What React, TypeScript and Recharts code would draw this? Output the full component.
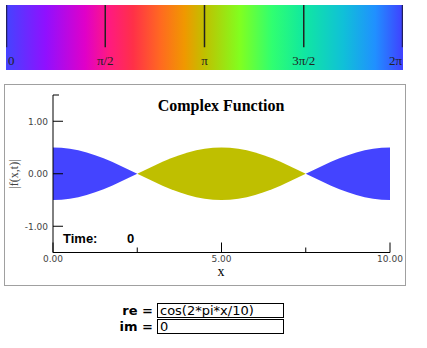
import { Area, ComposedChart, ReferenceArea, ReferenceDot, ReferenceLine, XAxis, YAxis } from "recharts";

const xValues = [
  0, 0.25, 0.5, 0.75, 1, 1.25, 1.5, 1.75, 2, 2.25, 2.5, 2.75, 3, 3.25, 3.5, 3.75, 4, 4.25, 4.5, 4.75, 5,
  5.25, 5.5, 5.75, 6, 6.25, 6.5, 6.75, 7, 7.25, 7.5, 7.75, 8, 8.25, 8.5, 8.75, 9, 9.25, 9.5, 9.75, 10,
];
const magnitude = [
  1.0, 0.988, 0.951, 0.891, 0.809, 0.707, 0.588, 0.454, 0.309, 0.156, 0, 0.156, 0.309, 0.454, 0.588, 0.707,
  0.809, 0.891, 0.951, 0.988, 1.0, 0.988, 0.951, 0.891, 0.809, 0.707, 0.588, 0.454, 0.309, 0.156, 0, 0.156,
  0.309, 0.454, 0.588, 0.707, 0.809, 0.891, 0.951, 0.988, 1.0,
];
// 0 = positive real (blue), 1 = phase pi (olive)
const phase = [
  0, 0, 0, 0, 0, 0, 0, 0, 0, 0, 0, 1, 1, 1, 1, 1, 1, 1, 1, 1, 1, 1, 1, 1, 1, 1, 1, 1, 1, 1, 0, 0, 0, 0, 0, 0,
  0, 0, 0, 0, 0,
];
const xTicks = [0, 2.5, 5, 7.5, 10];
const yTicks = [-1, 0, 1, 1.5];
const phaseTicks = [0, Math.PI / 2, Math.PI, (3 * Math.PI) / 2, 2 * Math.PI];
const phaseLabels = ["0", "π/2", "π", "3π/2", "2π"];

const hueStops = [
  { at: 0, color: "#4444ff" },
  { at: 0.1, color: "#9010ff" },
  { at: 0.2, color: "#e000c8" },
  { at: 0.26, color: "#ff1a80" },
  { at: 0.32, color: "#ff3048" },
  { at: 0.39, color: "#ff6a20" },
  { at: 0.45, color: "#f09800" },
  { at: 0.5, color: "#c0c000" },
  { at: 0.59, color: "#80ff20" },
  { at: 0.67, color: "#30ff70" },
  { at: 0.75, color: "#10e8a0" },
  { at: 0.85, color: "#10c0d8" },
  { at: 0.93, color: "#2090ff" },
  { at: 1, color: "#4040ff" },
];

const data = xValues.map((x, i) => {
  const h = magnitude[i] / 2;
  const band = [-h, h];
  return {
    x,
    pos: phase[i] === 0 || magnitude[i] === 0 ? band : null,
    neg: phase[i] === 1 || magnitude[i] === 0 ? band : null,
  };
});

const phaseData = phaseTicks.map((t) => ({ x: t, y: 0.5 }));

const tickFont = { fontFamily: "DejaVu Sans", fontSize: 9, fill: "#444" };

function XTick(props: any) {
  const { x, y, payload } = props;
  const v = payload.value;
  const major = v % 5 === 0;
  return (
    <g>
      <line x1={x} x2={x} y1={y} y2={y - (major ? 10 : 5)} stroke="#000" />
      {major && (
        <text x={x} y={y + 9.5} textAnchor="middle" {...tickFont}>
          {v.toFixed(2)}
        </text>
      )}
    </g>
  );
}

function YTick(props: any) {
  const { x, y, payload } = props;
  const v = payload.value;
  const labeled = Number.isInteger(v);
  return (
    <g>
      <line x1={x} x2={x + (labeled ? 10 : 6)} y1={y} y2={y} stroke="#000" />
      {labeled && (
        <text x={x - 5} y={y + 3.3} textAnchor="end" {...tickFont}>
          {v.toFixed(2)}
        </text>
      )}
    </g>
  );
}

function phaseLabelShape(index: number) {
  const last = phaseLabels.length - 1;
  const anchor = index === 0 ? "start" : index === last ? "end" : "middle";
  const dx = index === 0 ? 2 : index === last ? -1 : 0;
  return (props: any) => (
    <text
      x={props.cx + dx}
      y={props.cy}
      textAnchor={anchor}
      fontFamily="Liberation Serif"
      fontSize={13}
      fill="#222"
    >
      {phaseLabels[index]}
    </text>
  );
}

export default function App() {
  return (
    <div style={{ position: "absolute", left: 0, top: 0, width: 427, height: 348, background: "#fff" }}>
      <div style={{ position: "absolute", left: 6, top: 5 }}>
        <ComposedChart width={397} height={65} data={phaseData} margin={{ top: 0, right: 0, bottom: 0, left: 0 }}>
          <defs>
            <linearGradient id="hue" x1="0" y1="0" x2="1" y2="0">
              {hueStops.map((s) => (
                <stop key={s.at} offset={s.at} stopColor={s.color} />
              ))}
            </linearGradient>
          </defs>
          <XAxis type="number" dataKey="x" domain={[0, 2 * Math.PI]} hide />
          <YAxis type="number" dataKey="y" domain={[0, 1]} hide />
          <ReferenceArea x1={0} x2={2 * Math.PI} y1={0} y2={1} fill="url(#hue)" fillOpacity={1} stroke="none" />
          {phaseTicks.map((t, i) => (
            <ReferenceLine
              key={"l" + i}
              segment={[
                { x: t, y: 0.35 },
                { x: t, y: 1 },
              ]}
              stroke={i === 0 || i === phaseTicks.length - 1 ? "#202060" : "#222"}
              strokeWidth={i === 0 || i === phaseTicks.length - 1 ? 2.5 : 1.5}
            />
          ))}
          {phaseTicks.map((t, i) => (
            <ReferenceDot key={"d" + i} x={t} y={0.077} r={0} shape={phaseLabelShape(i)} />
          ))}
        </ComposedChart>
      </div>

      <div
        style={{
          position: "absolute",
          left: 4,
          top: 84,
          width: 402,
          height: 202,
          border: "1px solid #a0a0a0",
          boxSizing: "border-box",
        }}
      />
      <div style={{ position: "absolute", left: 4, top: 85 }}>
        <ComposedChart width={401} height={200} data={data} margin={{ top: 10, right: 15, bottom: 12.5, left: 19 }}>
          <XAxis
            type="number"
            dataKey="x"
            domain={[0, 10]}
            ticks={xTicks}
            interval={0}
            height={20}
            tickSize={0}
            tickMargin={0}
            stroke="#000"
            tickLine={false}
            tick={XTick}
          />
          <YAxis
            type="number"
            domain={[-1.5, 1.5]}
            ticks={yTicks}
            interval={0}
            width={30}
            tickSize={0}
            tickMargin={0}
            stroke="#000"
            tickLine={false}
            tick={YTick}
            allowDataOverflow
          />
          <Area
            dataKey="pos"
            type="linear"
            fill="#4444ff"
            fillOpacity={1}
            stroke="none"
            isAnimationActive={false}
            dot={false}
            activeDot={false}
          />
          <Area
            dataKey="neg"
            type="linear"
            fill="#bfbf00"
            fillOpacity={1}
            stroke="none"
            isAnimationActive={false}
            dot={false}
            activeDot={false}
          />
        </ComposedChart>
      </div>

      <div
        style={{
          position: "absolute",
          left: 121,
          top: 97.6,
          width: 200,
          textAlign: "center",
          fontFamily: "Liberation Serif",
          fontWeight: "bold",
          fontSize: 16,
          lineHeight: "16px",
          color: "#000",
        }}
      >
        Complex Function
      </div>
      <div
        style={{
          position: "absolute",
          left: -1,
          top: 168,
          width: 30,
          textAlign: "center",
          fontFamily: "Liberation Serif",
          fontSize: 12,
          lineHeight: "12px",
          color: "#444",
          transform: "rotate(-90deg)",
        }}
      >
        |f(x,t)|
      </div>
      <div
        style={{
          position: "absolute",
          left: 211,
          top: 265,
          width: 20,
          textAlign: "center",
          fontFamily: "Liberation Serif",
          fontSize: 14,
          lineHeight: "14px",
          color: "#000",
        }}
      >
        x
      </div>
      <div
        style={{
          position: "absolute",
          left: 63,
          top: 232,
          fontFamily: "Liberation Sans",
          fontWeight: "bold",
          fontSize: 13,
          lineHeight: "13px",
          color: "#000",
        }}
      >
        Time:
      </div>
      <div
        style={{
          position: "absolute",
          left: 127,
          top: 232,
          fontFamily: "Liberation Sans",
          fontWeight: "bold",
          fontSize: 13,
          lineHeight: "13px",
          color: "#000",
        }}
      >
        0
      </div>

      {[
        { label: "re =", value: "cos(2*pi*x/10)", top: 303 },
        { label: "im =", value: "0", top: 319 },
      ].map((row) => (
        <div key={row.label}>
          <div
            style={{
              position: "absolute",
              left: 103,
              top: row.top,
              width: 50,
              textAlign: "right",
              fontFamily: "DejaVu Sans",
              fontWeight: "bold",
              fontSize: 13,
              lineHeight: "15px",
              color: "#000",
            }}
          >
            {row.label}
          </div>
          <div
            style={{
              position: "absolute",
              left: 157,
              top: row.top,
              width: 127,
              height: 15,
              border: "1px solid #000",
              fontFamily: "DejaVu Sans",
              fontSize: 13,
              lineHeight: "13px",
              paddingLeft: 2,
              boxSizing: "border-box",
              color: "#000",
            }}
          >
            {row.value}
          </div>
        </div>
      ))}
    </div>
  );
}
